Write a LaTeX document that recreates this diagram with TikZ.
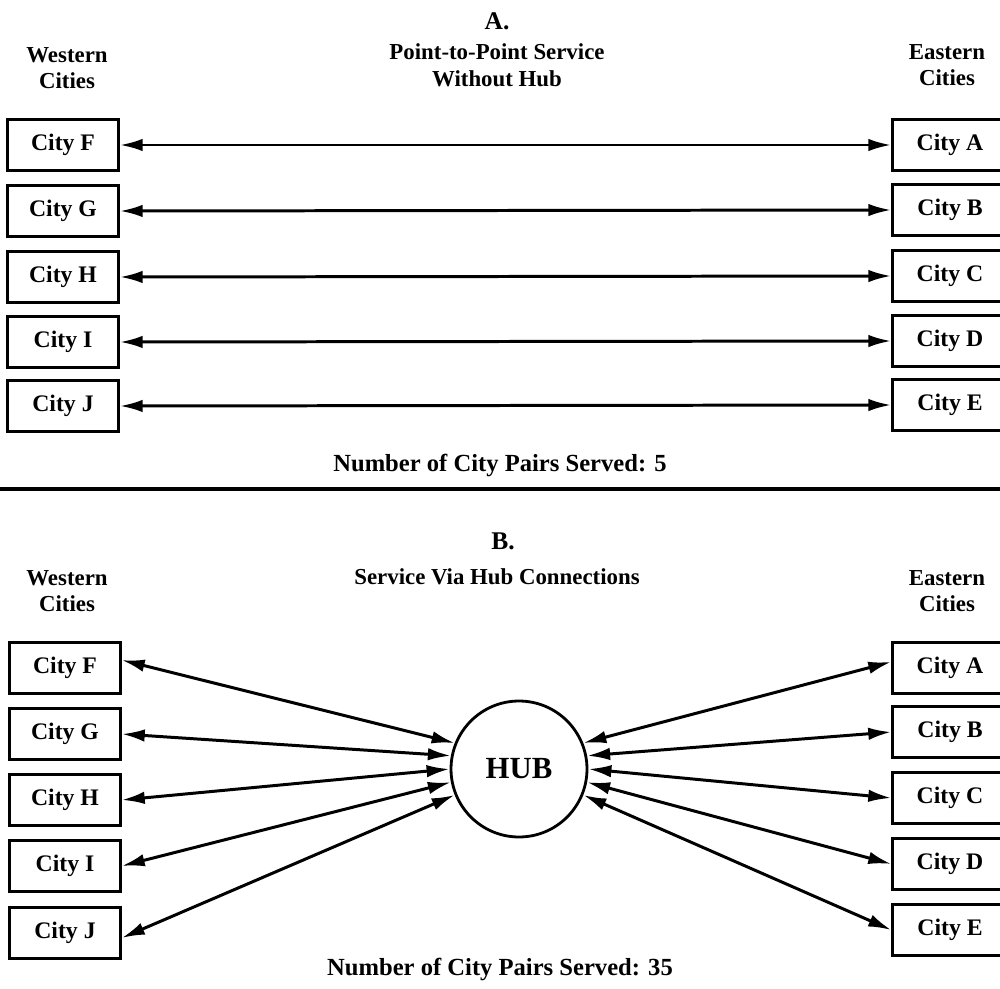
\documentclass[tikz,border=0pt]{standalone}
\usepackage{fontspec}
\setmainfont{Liberation Serif}
\usetikzlibrary{arrows.meta}
\begin{document}
\begin{tikzpicture}[x=0.02cm,y=-0.02cm,
  city/.style={draw, line width=1.4pt, minimum width=2.22cm, minimum height=1.02cm, inner sep=0pt,
    font=\fontsize{13.5}{15}\selectfont\bfseries},
  lbl/.style={align=center, inner sep=0pt, font=\fontsize{13}{15.2}\selectfont\bfseries},
  numlbl/.style={inner sep=0pt, font=\fontsize{14}{16}\selectfont\bfseries},
  ttl/.style={inner sep=0pt, font=\fontsize{14.5}{16}\selectfont\bfseries},
  link/.style={line width=1.7pt, {Latex[length=0.46cm,width=0.25cm]}-{Latex[length=0.46cm,width=0.25cm]}},
  hubnode/.style={circle, draw, line width=1.6pt, minimum size=2.72cm, inner sep=0pt,
    font=\fontsize{17.5}{19}\selectfont\bfseries},
  rule/.style={line width=2.3pt}
]
\useasboundingbox (0,0) rectangle (1000,989);
\clip (0,0) rectangle (1000,989);

% ---------- Part A ----------
\node[ttl] (tA) at (497,21) {A.};
\node[lbl] (tWest) at (67,68) {Western\\Cities};
\node[lbl] (tMid) at (497,65) {Point-to-Point Service\\Without Hub};
\node[lbl] (tEast) at (947,65) {Eastern\\Cities};

\node[city] (tF) at (63,145) {City F};
\node[city] (tG) at (63,211) {City G};
\node[city] (tH) at (63,277) {City H};
\node[city] (tI) at (63,342) {City I};
\node[city] (tJ) at (63,406) {City J};

\node[city, minimum width=2.3cm] (tA1) at (950,145) {City A};
\node[city, minimum width=2.3cm] (tB) at (950,210) {City B};
\node[city, minimum width=2.3cm] (tC) at (950,276) {City C};
\node[city, minimum width=2.3cm] (tD) at (950,341) {City D};
\node[city, minimum width=2.3cm] (tE) at (950,405) {City E};

\draw[link] (tF.east) -- (tA1.west);
\draw[link] (tG.east) -- (tB.west);
\draw[link] (tH.east) -- (tC.west);
\draw[link] (tI.east) -- (tD.west);
\draw[link] (tJ.east) -- (tE.west);

\node[numlbl] (tNum) at (500,465) {Number of City Pairs Served: 5};

\coordinate (ruleL) at (0,489);
\coordinate (ruleR) at (1000,489);
\draw[rule] (ruleL) -- (ruleR);

% ---------- Part B ----------
\node[ttl] (tBB) at (503,541) {B.};
\node[lbl] (bWest) at (67,591) {Western\\Cities};
\node[lbl] (bMid) at (497,577) {Service Via Hub Connections};
\node[lbl] (bEast) at (947,591) {Eastern\\Cities};

\node[city] (bF) at (65,668) {City F};
\node[city] (bG) at (65,734) {City G};
\node[city] (bH) at (65,800) {City H};
\node[city] (bI) at (65,866) {City I};
\node[city] (bJ) at (65,933) {City J};

\node[city, minimum width=2.3cm] (bA) at (950,668) {City A};
\node[city, minimum width=2.3cm] (bB) at (950,732) {City B};
\node[city, minimum width=2.3cm] (bC) at (950,798) {City C};
\node[city, minimum width=2.3cm] (bD) at (950,864) {City D};
\node[city, minimum width=2.3cm] (bE) at (950,930) {City E};

\node[hubnode] (hub) at (519,769) {HUB};

\draw[link] (hub.158) -- (bF.8);
\draw[link] (hub.169) -- (bG.east);
\draw[link] (hub.180) -- (bH.east);
\draw[link] (hub.191) -- (bI.east);
\draw[link] (hub.202) -- (bJ.-5);

\draw[link] (hub.22) -- (bA.174);
\draw[link] (hub.11) -- (bB.west);
\draw[link] (hub.0) -- (bC.west);
\draw[link] (hub.-11) -- (bD.west);
\draw[link] (hub.-22) -- (bE.west);

\node[numlbl] (bNum) at (500,969) {Number of City Pairs Served: 35};
\end{tikzpicture}
\end{document}
